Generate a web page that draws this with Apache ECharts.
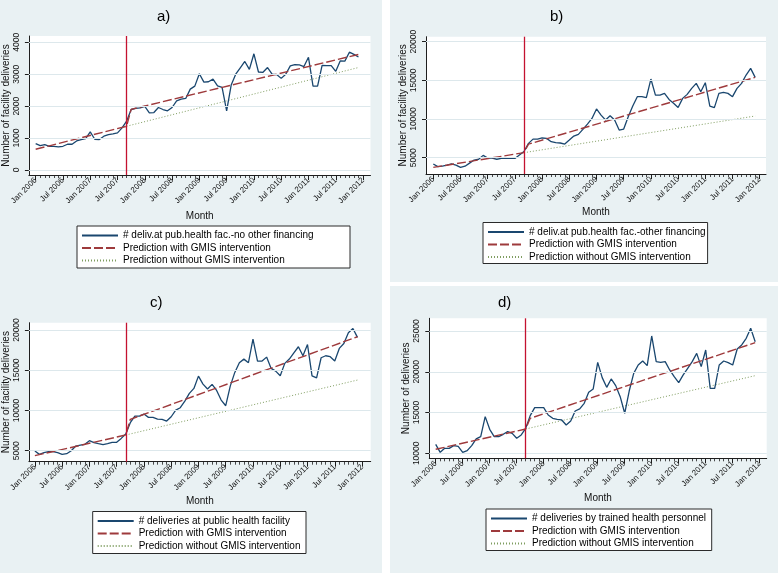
<!DOCTYPE html>
<html><head><meta charset="utf-8">
<script src="https://cdn.jsdelivr.net/npm/echarts@6/dist/echarts.min.js"></script>
<style>
html,body{margin:0;padding:0;background:#fff;}
#wrap{position:relative;width:778px;height:573px;overflow:hidden;}
.panel{position:absolute;background:#e9f1f3;}
#chart{position:absolute;left:0;top:0;width:778px;height:573px;}
</style></head><body>
<div id="wrap">
<div class="panel" style="left:0;top:0;width:382px;height:573px"></div>
<div class="panel" style="left:390px;top:0;width:388px;height:282px"></div>
<div class="panel" style="left:390px;top:286px;width:388px;height:287px"></div>
<div id="chart"></div>
</div>
<script>
// ================= DATA =================
const monthTickLabels = ['Jan 2006','Jul 2006','Jan 2007','Jul 2007','Jan 2008','Jul 2008','Jan 2009','Jul 2009','Jan 2010','Jul 2010','Jan 2011','Jul 2011','Jan 2012'];
const majorTickMonths = [0,6,12,18,24,30,36,42,48,54,60,66,72];
const interventionMonth = 20;

const panelTitles = ['a)','b)','c)','d)'];
const yTitles = ['Number of facility deliveries','Number of facility deliveries','Number of facility deliveries','Number of deliveries'];
const xTitle = 'Month';
const observedNames = ['# deliv.at pub.health fac.-no other financing','# deliv.at pub.health fac.-other financing','# deliveries at public health facility','# deliveries by trained health personnel'];
const withName = 'Prediction with GMIS intervention';
const withoutName = 'Prediction without GMIS intervention';

const yTicksA = [0,1000,2000,3000,4000];
const yTicksB = [5000,10000,15000,20000];
const yTicksC = [5000,10000,15000,20000];
const yTicksD = [10000,15000,20000,25000];

// monthly observed values, Jan 2006 .. Dec 2011
const observedA = [827,764,796,743,743,722,743,806,806,911,953,984,1194,963,953,1058,1110,1131,1162,1319,1529,
  1895,1927,1948,1990,1790,1800,1958,1895,1853,1958,2168,2220,2241,2534,2628,3016,2754,2764,2848,2638,2586,
  1850,2660,3000,3200,3400,3150,3640,3070,3060,3210,3000,2990,2870,3000,3260,3300,3290,3240,3530,2630,2630,
  3280,3270,3270,3090,3420,3410,3690,3620,3540];
const observedB = [4180,3840,3920,4050,4200,4050,3750,3900,4300,4700,4800,5300,4950,4950,4800,4900,4950,4900,4900,5350,5800,
  6850,7400,7400,7550,7500,7070,6940,6900,6770,7280,7800,8020,8660,9350,10080,11300,10500,9870,10430,9870,8580,
  8700,10300,11680,12890,12890,12760,15170,13100,13100,13320,12540,12030,11500,12670,13190,13970,14610,13530,14700,11680,11470,
  13320,13450,13320,12890,13970,14610,15690,16550,15390];
const observedC = [4960,4545,4750,4875,4875,4750,4545,4630,5000,5580,5700,5790,6240,6000,5870,5750,5870,6040,6040,6530,7070,
  8480,9300,9300,9550,9140,9140,8930,8890,8680,9220,10050,10340,11170,12120,12740,14270,13280,12660,13240,12490,11290,
  10590,13030,14730,15930,16380,15930,18870,16140,16140,16630,15230,14890,14310,15850,16390,17170,17920,16800,18200,14310,14060,
  16550,16800,16680,16140,17710,18330,19660,20190,19080];
const observedD = [11100,10120,10610,10610,10940,10860,10120,10330,10940,11760,12040,14500,12940,12040,12040,12330,12660,12450,11840,12250,13070,
  14620,15600,15600,15600,14700,14290,14170,14090,13470,13970,15190,15440,16130,17480,17890,21160,19280,18090,19120,18300,16950,
  14910,17640,19810,20830,21320,20750,24390,21240,21160,21240,20220,19400,18670,19610,20420,21240,22260,20630,22670,17970,17970,
  20830,21320,21120,20830,22790,23290,24100,25330,23690];

// prediction lines: [month index, value] break points
const predWithA = [[0,650],[20,1370],[21,1900],[71,3620]];
const predWithoutA = [[20,1370],[71,3210]];
const predWithB = [[0,3750],[20,5650],[21,6750],[71,15390]];
const predWithoutB = [[20,5650],[71,10390]];
const predWithC = [[0,4380],[20,6950],[21,8900],[71,19160]];
const predWithoutC = [[20,6950],[71,13780]];
const predWithD = [[0,10490],[20,12980],[21,14290],[71,23570]];
const predWithoutD = [[20,12980],[71,19520]];

// ================= LAYOUT =================
const FONT = '"Liberation Sans", Arial, Helvetica, sans-serif';
const layout = [
  {L:27.5,R:370.5,T:36,B:175, x0:34.3, x72:363, yv:[0,4000], ypx:[170,42.3], title:[157,9], leg:{x:77,y:226,w:272,h:45}, yGap:16, mGap:36},
  {L:426,R:766,T:36.7,B:174, x0:433.3, x72:759.7, yv:[5000,20000], ypx:[157.7,41.7], title:[550,9], leg:{x:483,y:222.5,w:213,h:44}, yGap:15, mGap:33},
  {L:28.3,R:370.7,T:322.7,B:461.7, x0:34.3, x72:362, yv:[5000,20000], ypx:[450.7,330], title:[150,295], leg:{x:92.7,y:511.5,w:212.3,h:45}, yGap:16.5, mGap:35},
  {L:429.3,R:766.7,T:318.3,B:458.3, x0:435.7, x72:759.7, yv:[10000,25000], ypx:[453.3,331], title:[498,295], leg:{x:486,y:509,w:224.7,h:44.5}, yGap:17.5, mGap:35}
];
const observed = [observedA, observedB, observedC, observedD];
const predWith = [predWithA, predWithB, predWithC, predWithD];
const predWithout = [predWithoutA, predWithoutB, predWithoutC, predWithoutD];
const yTicks = [yTicksA, yTicksB, yTicksC, yTicksD];

const allMonths = [];
for (let m = 0; m <= 72; m++) allMonths.push(m);

const mctx = document.createElement('canvas').getContext('2d');
mctx.font = '10px ' + FONT;
const textW = s => mctx.measureText(s).width;

const grids = [], xAxes = [], yAxes = [], series = [], legends = [], titles = [];
const axisColor = '#1e1e1e';
const hidden = 'rgba(0,0,0,0)';

layout.forEach((p, k) => {
  const pxPerMonth = (p.x72 - p.x0) / 72;
  const xmin = (p.L - p.x0) / pxPerMonth;
  const xmax = 72 + (p.R - p.x72) / pxPerMonth;
  const pxPerUnit = (p.ypx[0] - p.ypx[1]) / (p.yv[1] - p.yv[0]);
  const ymin = p.yv[0] - (p.B - p.ypx[0]) / pxPerUnit;
  const ymax = p.yv[1] + (p.ypx[1] - p.T) / pxPerUnit;

  grids.push({left:p.L, top:p.T, width:p.R - p.L, height:p.B - p.T, show:true, backgroundColor:'#ffffff', borderWidth:0});

  xAxes.push({
    gridIndex:k, type:'value', min:xmin, max:xmax, position:'bottom',
    axisLine:{show:true, onZero:false, lineStyle:{color:axisColor, width:1}},
    axisTick:{show:true, length:5, customValues:majorTickMonths, lineStyle:{color:axisColor, width:1}},
    axisLabel:{show:true, rotate:45, margin:4, customValues:majorTickMonths,
      formatter: v => monthTickLabels[Math.round(v / 6)], fontSize:8, color:'#111', fontFamily:FONT},
    splitLine:{show:false},
    name:xTitle, nameLocation:'middle', nameGap:p.mGap,
    nameTextStyle:{fontSize:10, color:'#111', fontFamily:FONT}
  });
  xAxes.push({
    gridIndex:k, type:'value', min:xmin, max:xmax, position:'bottom',
    axisLine:{show:false, onZero:false}, axisLabel:{show:false}, splitLine:{show:false},
    axisTick:{show:true, length:3, customValues:allMonths, lineStyle:{color:axisColor, width:0.8}}
  });
  yAxes.push({
    gridIndex:k, type:'value', min:ymin, max:ymax, position:'left',
    axisLine:{show:true, onZero:false, lineStyle:{color:axisColor, width:1}},
    axisTick:{show:true, length:4, customValues:yTicks[k], lineStyle:{color:axisColor, width:1}},
    axisLabel:{show:true, rotate:90, margin:8, customValues:yTicks[k], formatter: v => String(Math.round(v)),
      fontSize:8.5, color:'#111', fontFamily:FONT},
    splitLine:{show:false},
    name:yTitles[k], nameLocation:'middle', nameRotate:90, nameGap:p.yGap,
    nameTextStyle:{fontSize:10, color:'#111', fontFamily:FONT}
  });

  const xi = 2 * k, yi = k;
  series.push({
    name:'_ref' + k, type:'line', xAxisIndex:xi, yAxisIndex:yi, data:[], z:1, silent:true,
    markLine:{silent:true, symbol:'none', animation:false, label:{show:false},
      data: yTicks[k].map(v => ({yAxis:v, lineStyle:{color:'#dde8ec', width:1, type:'solid'}}))
        .concat([{xAxis:interventionMonth, lineStyle:{color:'#c41230', width:1.3, type:'solid'}}])}
  });
  series.push({
    name:observedNames[k], type:'line', xAxisIndex:xi, yAxisIndex:yi, z:3,
    data: observed[k].map((v, i) => [i, v]), symbol:'none', showSymbol:false,
    lineStyle:{color:'#1a476f', width:1.3}, itemStyle:{color:'#1a476f'}
  });
  series.push({
    name:withName, type:'line', xAxisIndex:xi, yAxisIndex:yi, z:4,
    data: predWith[k], symbol:'none', showSymbol:false,
    lineStyle:{color:'#9e3a3c', width:1.4, type:[9,3]}, itemStyle:{color:'#9e3a3c'}
  });
  series.push({
    name:withoutName, type:'line', xAxisIndex:xi, yAxisIndex:yi, z:2,
    data: predWithout[k], symbol:'none', showSymbol:false,
    lineStyle:{color:'#7f9d60', width:1, type:[1,2]}, itemStyle:{color:'#7f9d60'}
  });

  titles.push({text:panelTitles[k], left:p.title[0], top:p.title[1], padding:0,
    textStyle:{fontSize:15, fontWeight:'normal', color:'#000', fontFamily:FONT}});

  const names = [observedNames[k], withName, withoutName];
  const maxW = Math.max(...names.map(textW));
  const padL = 4, padT = 4.5, itemH = 11, gap = 2.5;
  const padR = Math.max(2, p.leg.w - padL - 36 - 5 - maxW);
  const padB = Math.max(1, p.leg.h - padT - 3 * itemH - 2 * gap);
  legends.push({
    left:p.leg.x, top:p.leg.y, orient:'vertical', data:names, selectedMode:false,
    itemWidth:36, itemHeight:itemH, itemGap:gap, padding:[padT, padR, padB, padL],
    backgroundColor:'#ffffff', borderColor:'#2a2a2a', borderWidth:1, borderRadius:0,
    itemStyle:{color:hidden, borderColor:hidden, borderWidth:0, opacity:0},
    textStyle:{fontSize:10, color:'#000', fontFamily:FONT}
  });
});

const chart = echarts.init(document.getElementById('chart'), null, {renderer:'canvas'});
chart.setOption({
  animation:false,
  backgroundColor:'transparent',
  title:titles, grid:grids, xAxis:xAxes, yAxis:yAxes, legend:legends, series:series
});
</script>
</body></html>
